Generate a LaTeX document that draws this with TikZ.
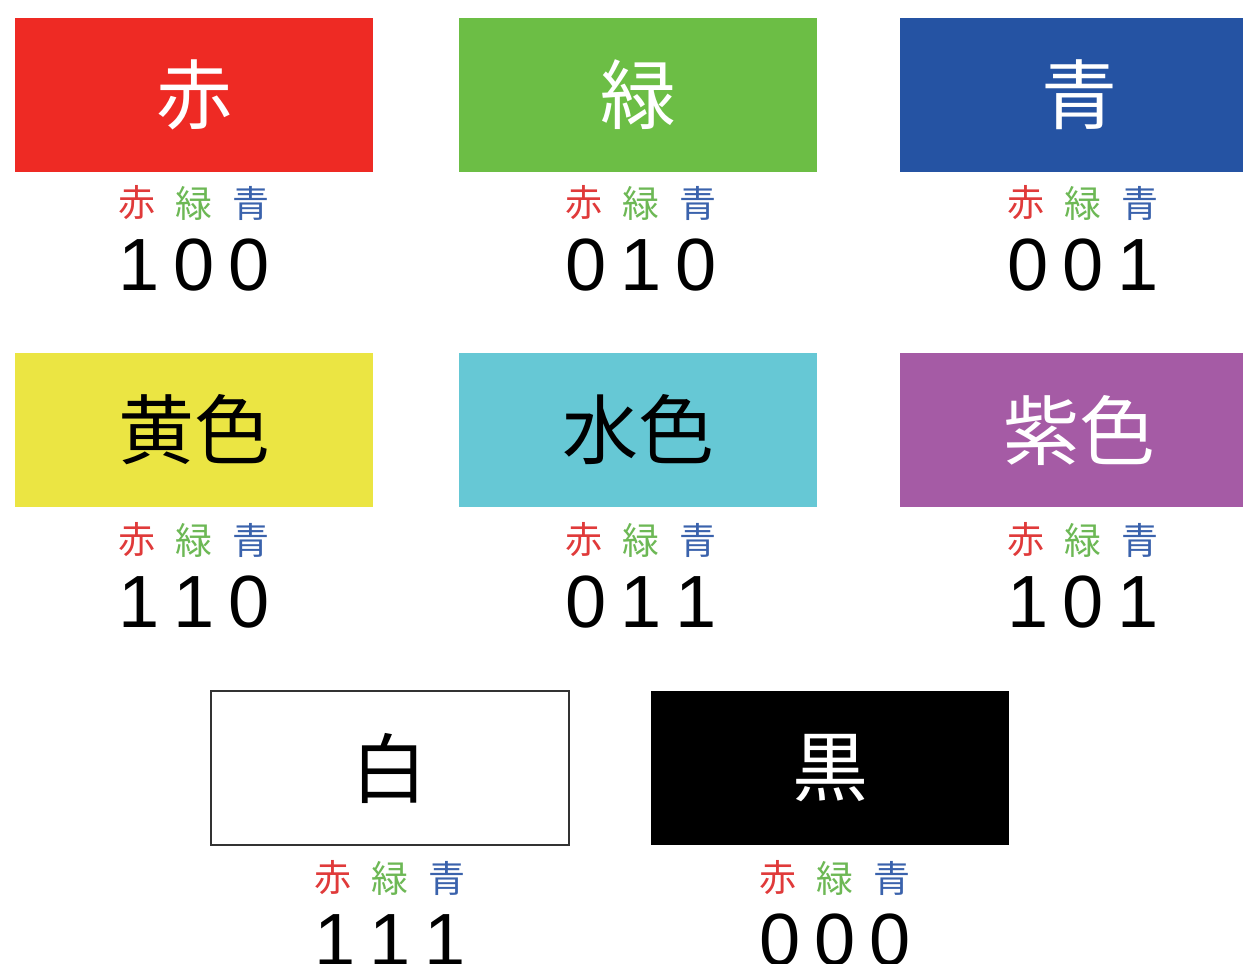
\documentclass[tikz,border=0pt]{standalone}
\usepackage{fontspec}
\newfontfamily\cjk{Noto Sans CJK JP}
\newfontfamily\digitfont{Liberation Sans}
\definecolor{cRed}{HTML}{EE2A24}
\definecolor{cGreen}{HTML}{6CBE45}
\definecolor{cBlue}{HTML}{2553A3}
\definecolor{cYellow}{HTML}{EBE543}
\definecolor{cCyan}{HTML}{66C8D5}
\definecolor{cPurple}{HTML}{A55BA5}
\definecolor{lRed}{HTML}{E03A3A}
\definecolor{lGreen}{HTML}{6DB855}
\definecolor{lBlue}{HTML}{3A62AC}
\tikzset{
  swatch/.style={minimum width=179pt, minimum height=77pt, inner sep=0pt, outer sep=0pt,
    font=\cjk\fontsize{38}{40}\selectfont},
  lab/.style={inner sep=0pt, font=\cjk\fontsize{18.5}{20}\selectfont},
  dig/.style={inner sep=0pt, font=\digitfont\fontsize{37}{40}\selectfont}
}
\newcommand\codeblock[6]{%
  \node[lab, text=lRed]   (#1-r) at (#2-57,#3) {赤};
  \node[lab, text=lGreen] (#1-g) at (#2,#3) {緑};
  \node[lab, text=lBlue]  (#1-b) at (#2+57,#3) {青};
  \node[dig] (#1-dr) at (#2-55,#3+62) {#4};
  \node[dig] (#1-dg) at (#2,#3+62) {#5};
  \node[dig] (#1-db) at (#2+55,#3+62) {#6};
}
\begin{document}
\begin{tikzpicture}[x=0.5pt,y=-0.5pt]
\clip (0,0) rectangle (1243,964);
\fill[white] (0,0) rectangle (1243,964);
% row 1
\node[swatch, fill=cRed, text=white] (red) at (194,95) {赤};
\node[swatch, fill=cGreen, text=white] (green) at (638,95) {緑};
\node[swatch, fill=cBlue, text=white] (blue) at (1079,95) {青};
\codeblock{redc}{194}{203}{1}{0}{0}
\codeblock{greenc}{641}{203}{0}{1}{0}
\codeblock{bluec}{1083}{203}{0}{0}{1}
% row 2
\node[swatch, fill=cYellow, text=black] (yellow) at (194,430) {黄色};
\node[swatch, fill=cCyan, text=black] (cyan) at (638,430) {水色};
\node[swatch, fill=cPurple, text=white] (purple) at (1079,430) {紫色};
\codeblock{yellowc}{194}{540}{1}{1}{0}
\codeblock{cyanc}{641}{540}{0}{1}{1}
\codeblock{purplec}{1083}{540}{1}{0}{1}
% row 3
\node[swatch, fill=white, draw=black!80, line width=1pt, text=black] (white) at (389.5,768) {白};
\node[swatch, fill=black, text=white] (black) at (830,768) {黒};
\codeblock{whitec}{390}{878}{1}{1}{1}
\codeblock{blackc}{835}{878}{0}{0}{0}
\end{tikzpicture}
\end{document}
